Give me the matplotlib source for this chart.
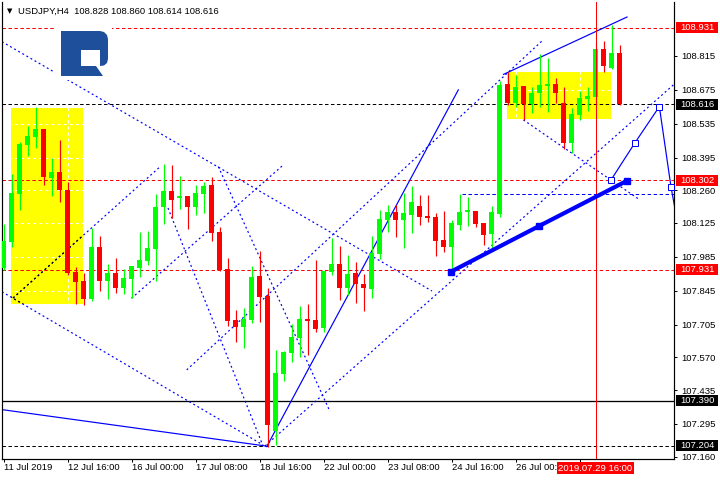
import matplotlib
matplotlib.use("Agg")
import matplotlib.pyplot as plt
from matplotlib.patches import Rectangle, Polygon
from matplotlib.transforms import blended_transform_factory

plt.rcParams['font.family'] = ['Liberation Sans', 'DejaVu Sans']
plt.rcParams['lines.scale_dashes'] = False

# USDJPY H4, bars 0..77 (x = bar index)
opens = [107.939, 108.048, 108.246, 108.449, 108.482, 108.514, 108.311, 108.336, 108.262, 107.923,
         107.886, 107.813, 108.026, 107.887, 107.919, 107.858, 107.895, 107.941, 107.970, 108.019,
         108.189, 108.258, 108.230, 108.237, 108.189, 108.246, 108.282, 108.088, 107.935, 107.725,
         107.697, 107.726, 107.906, 107.824, 107.266, 107.503, 107.589, 107.651, 107.729, 107.726,
         107.693, 107.923, 107.956, 107.858, 107.919, 107.873, 107.854, 107.998, 108.138, 108.171,
         108.138, 108.158, 108.196, 108.154, 108.150, 108.055, 108.026, 108.118, 108.171, 108.175,
         108.125, 108.078, 108.164, 108.700, 108.622, 108.691, 108.618, 108.662, 108.693, 108.700,
         108.621, 108.457, 108.573, 108.639, 108.647, 108.844, 108.765, 108.828]
highs = [108.121, 108.328, 108.461, 108.526, 108.605, 108.514, 108.395, 108.468, 108.295, 107.945,
         107.918, 108.103, 108.072, 107.956, 107.980, 107.935, 107.948, 108.089, 108.092, 108.245,
         108.369, 108.366, 108.320, 108.237, 108.284, 108.295, 108.314, 108.108, 107.981, 107.766,
         107.774, 107.948, 108.010, 107.857, 107.601, 107.597, 107.708, 107.784, 107.791, 107.972,
         107.928, 108.063, 108.029, 107.993, 107.964, 107.915, 108.072, 108.179, 108.200, 108.201,
         108.248, 108.278, 108.242, 108.242, 108.168, 108.176, 108.138, 108.245, 108.232, 108.175,
         108.125, 108.196, 108.712, 108.749, 108.736, 108.691, 108.686, 108.824, 108.806, 108.723,
         108.686, 108.599, 108.669, 108.686, 108.873, 108.877, 108.943, 108.860]
lows = [107.931, 108.027, 108.179, 108.403, 108.434, 108.282, 108.238, 108.213, 107.909, 107.791,
        107.787, 107.804, 107.846, 107.813, 107.837, 107.831, 107.814, 107.903, 107.952, 107.887,
        108.121, 108.145, 108.184, 108.102, 108.156, 108.165, 108.052, 107.928, 107.701, 107.634,
        107.610, 107.712, 107.718, 107.201, 107.208, 107.474, 107.551, 107.573, 107.581, 107.676,
        107.676, 107.910, 107.807, 107.828, 107.796, 107.763, 107.815, 107.978, 108.089, 108.069,
        108.022, 108.085, 108.117, 108.131, 107.990, 108.006, 107.931, 108.098, 108.114, 108.110,
        108.036, 108.014, 108.149, 108.613, 108.603, 108.551, 108.581, 108.606, 108.585, 108.620,
        108.432, 108.413, 108.551, 108.589, 108.613, 108.749, 108.760, 108.614]
closes = [108.051, 108.249, 108.450, 108.485, 108.515, 108.313, 108.336, 108.263, 107.920, 107.883,
          107.813, 108.025, 107.887, 107.919, 107.858, 107.898, 107.946, 107.972, 108.022, 108.191,
          108.258, 108.222, 108.237, 108.189, 108.249, 108.278, 108.085, 107.932, 107.722, 107.697,
          107.729, 107.902, 107.821, 107.291, 107.506, 107.592, 107.654, 107.729, 107.722, 107.689,
          107.928, 107.956, 107.858, 107.915, 107.875, 107.858, 108.001, 108.142, 108.171, 108.139,
          108.167, 108.212, 108.151, 108.146, 108.052, 108.027, 108.125, 108.171, 108.179, 108.122,
          108.077, 108.171, 108.696, 108.622, 108.687, 108.618, 108.662, 108.696, 108.701, 108.660,
          108.457, 108.576, 108.642, 108.650, 108.844, 108.775, 108.828, 108.616]

x_tick_bars = [0, 8, 16, 24, 32, 40, 48, 56, 64, 72]
# the label at bar 72 sits under the cursor date box, so it is left empty
x_tick_labels = ['11 Jul 2019', '12 Jul 16:00', '16 Jul 00:00', '17 Jul 08:00', '18 Jul 16:00',
                 '22 Jul 00:00', '23 Jul 08:00', '24 Jul 16:00', '26 Jul 00:00', '']
price_ticks = [108.815, 108.675, 108.535, 108.395, 108.260, 108.125,
               107.985, 107.845, 107.705, 107.570, 107.435, 107.295, 107.160]

red_levels = [108.931, 108.302, 107.931]
black_dash_levels = [108.616, 107.204]
black_solid_level = 107.390

title = 'USDJPY,H4  108.828 108.860 108.614 108.616'
cursor_bar = 74
cursor_label = '2019.07.29 16:00'

# drawn objects, points are (bar, price)
yellow_boxes = [((0.94, 107.791), (9.94, 108.600)),
                ((62.9, 108.555), (75.9, 108.748))]
dotted_lines = [
    [(-0.2, 108.874), (53.56, 107.844)],
    [(-0.2, 107.841), (32.44, 107.208)],
    [(1.19, 107.815), (19.56, 108.357)],
    [(16.0, 107.814), (34.98, 108.365)],
    [(22.9, 107.518), (67.44, 108.881)],
    [(26.85, 108.358), (40.81, 107.346)],
    [(20.56, 108.187), (32.44, 107.204)],
    [(32.69, 107.204), (83.75, 108.696)],
    [(64.98, 108.551), (79.56, 108.220)],
]
dashed_hline = [(57.28, 108.243), (84.0, 108.243)]
solid_lines = [
    [(-0.2, 107.354), (32.69, 107.204)],
    [(32.9, 107.201), (56.85, 108.675)],
    [(62.5, 108.739), (77.94, 108.976)],
]
thick_line = [(55.94, 107.924), (66.98, 108.113), (77.98, 108.300)]
forecast_path = [(75.94, 108.303), (78.94, 108.457), (81.98, 108.606), (83.44, 108.273), (83.9, 108.190)]

W, H = 720, 480
PX = 0.72  # points per pixel
FS = 6.8

fig = plt.figure(figsize=(7.2, 4.8), dpi=100)
ax = fig.add_axes([2.3 / W, 1 - 458.5 / H, (674 - 2.3) / W, (458.5 - 2) / H])
ax.set_xlim(-0.15, 83.81)
ax.set_ylim(107.152, 109.038)

# yellow rectangles and the (white) grid that shows only on them
box_patches = []
for (x0, y0), (x1, y1) in yellow_boxes:
    r = Rectangle((x0, y0), x1 - x0, y1 - y0, fc='yellow', ec='none', zorder=1)
    ax.add_patch(r)
    box_patches.append(r)
for b in x_tick_bars:
    ax.axvline(b, color='white', lw=PX, ls=(0, (2.2, 2.2)), zorder=1.5)
for p in price_ticks:
    ax.axhline(p, color='white', lw=PX, ls=(0, (2.2, 2.2)), zorder=1.5)

dash = (0, (2.5, 1.8))
dot = (0, (1.4, 2.0))
for p in red_levels:
    ax.axhline(p, color='red', lw=PX, ls=dash, zorder=2)
for p in black_dash_levels:
    ax.axhline(p, color='black', lw=PX, ls=dash, zorder=2)
ax.axhline(black_solid_level, color='black', lw=PX * 1.3, zorder=2)

for pts in dotted_lines:
    xs, ys = zip(*pts)
    ax.plot(xs, ys, color='blue', lw=PX * 1.2, ls=dot, zorder=2)
    # over the yellow box the dots look black
    ln, = ax.plot(xs, ys, color='black', lw=PX * 1.2, ls=dot, zorder=2.1)
    ln.set_clip_path(box_patches[0])
xs, ys = zip(*dashed_hline)
ax.plot(xs, ys, color='blue', lw=PX, ls=dash, zorder=2)
for pts in solid_lines:
    xs, ys = zip(*pts)
    ax.plot(xs, ys, color='blue', lw=PX * 1.2, zorder=2)

# candles
for i in range(len(opens)):
    c = '#00ff00' if closes[i] >= opens[i] else '#ff0000'
    ax.vlines(i, lows[i], highs[i], color=c, lw=PX * 1.2, zorder=3)
    lo = min(opens[i], closes[i])
    h = max(abs(closes[i] - opens[i]), 0.004)
    ax.add_patch(Rectangle((i - 0.33, lo), 0.66, h, fc=c, ec='none', zorder=3.1))

ax.axvline(cursor_bar, color='red', lw=PX, zorder=3.5)

xs, ys = zip(*thick_line)
ax.plot(xs, ys, color='blue', lw=3.0, solid_capstyle='butt', zorder=4)
ax.plot(xs, ys, ls='none', marker='s', ms=4.5, color='blue', zorder=4.1)
xs, ys = zip(*forecast_path)
ax.plot(xs, ys, color='blue', lw=PX * 1.2, zorder=4)
ax.plot(xs[:-1], ys[:-1], ls='none', marker='s', ms=4, mfc='white', mec='blue', mew=PX, zorder=4.1)

# axes look
ax.spines['top'].set_visible(False)
for s in ['left', 'right', 'bottom']:
    ax.spines[s].set_linewidth(PX * 1.2)
ax.yaxis.tick_right()
ax.set_yticks(price_ticks)
ax.set_yticklabels([f'{p:.3f}' for p in price_ticks])
ax.set_xticks(x_tick_bars)
ax.set_xticklabels(x_tick_labels)
for lbl in ax.get_xticklabels():
    lbl.set_ha('left')
ax.tick_params(axis='y', length=2.4, width=PX, pad=2.5, labelsize=FS)
ax.tick_params(axis='x', length=2.4, width=PX, pad=1.2, labelsize=FS)

# price tags on the right scale
ytr = ax.get_yaxis_transform()
hh = 5.5 * 0.0041316
for p, col in [(108.931, 'red'), (108.616, 'black'), (108.302, 'red'),
               (107.931, 'red'), (107.390, 'black'), (107.204, 'black')]:
    ax.add_patch(Rectangle((1.003, p - hh), 0.0625, 2 * hh, transform=ytr, fc=col, ec='none',
                           clip_on=False, zorder=5))
    ax.text(1.0097, p, f'{p:.3f}', transform=ytr, ha='left', va='center', color='white',
            fontsize=FS, zorder=6, clip_on=False)

btr = blended_transform_factory(ax.transData, ax.transAxes)
ax.text(cursor_bar, -0.021, cursor_label, transform=btr, ha='center', va='center', color='white',
        fontsize=FS, zorder=10, clip_on=False,
        bbox=dict(boxstyle='square,pad=0.18', fc='red', ec='none'))

# title
fig.text(7 / W, 1 - 11 / H, '\u25bc', fontsize=5, family='DejaVu Sans', va='center')
fig.text(18.3 / W, 1 - 11 / H, title, fontsize=FS, va='center')

# logo
def pix(pts):
    return [(x / W, 1 - y / H) for x, y in pts]

fig.add_artist(Rectangle((55 / W, 1 - 80 / H), 57 / W, 58 / H, fc='white', ec='none',
                         transform=fig.transFigure, zorder=4))
logo_body = [(61, 31), (100, 31), (104, 32), (107, 35), (108, 39), (108, 59), (107, 63),
             (104, 65.5), (100, 66), (100, 50), (81, 50), (81, 76), (61, 76)]
logo_leg = [(81, 66), (96, 66), (103, 76), (81, 76)]
for shape in (logo_body, logo_leg):
    fig.add_artist(Polygon(pix(shape), closed=True, fc='#1d4f9b', ec='none',
                           transform=fig.transFigure, zorder=5))

fig.savefig('out.png', dpi=100)
